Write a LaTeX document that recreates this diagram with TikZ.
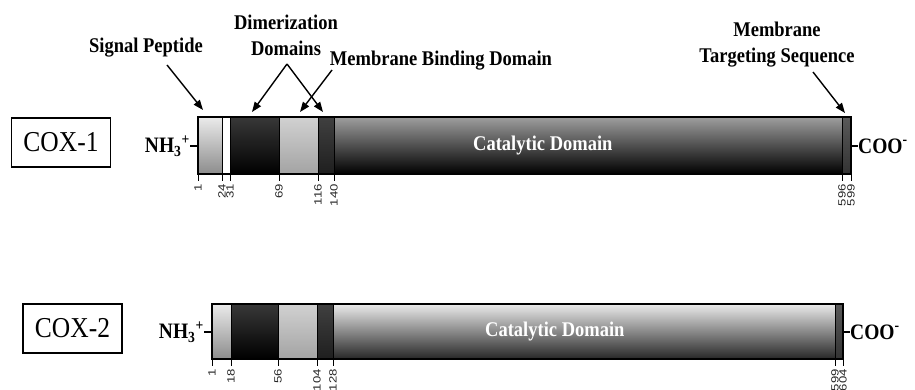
\documentclass[tikz,border=0pt]{standalone}
\usepackage{fontspec}
\setmainfont{Liberation Serif}
\newfontfamily\tickfont{Liberation Sans}
\usetikzlibrary{arrows.meta}
\newcommand\vst[1]{\scalebox{1}[1.13]{#1}}
\newcommand\lng[1]{\scalebox{1.25}[1]{#1}}
\tikzset{
  lbl/.style={font=\bfseries\fontsize{18.5}{26}\selectfont, align=center, inner sep=0pt},
  arr/.style={line width=1.4pt, -{Triangle[length=10pt,width=7.5pt]}},
  coxbox/.style={draw, line width=1.2pt, minimum width=99pt, minimum height=49pt, inner sep=0pt, font=\fontsize{25.5}{25.5}\selectfont},
  term/.style={font=\bfseries\fontsize{19.5}{19.5}\selectfont, inner sep=0pt},
  cat/.style={font=\bfseries\fontsize{18.5}{18.5}\selectfont, text=white, inner sep=0pt, anchor=west},
  ticklab/.style={rotate=90, anchor=east, inner sep=0pt, font=\tickfont\fontsize{10.5}{10.5}\selectfont, text=black!85},
  seg/.style={draw=black, line width=0.6pt},
  lightseg/.style={seg, top color=black!8, bottom color=black!45},
  darkseg/.style={seg, top color=black!78, bottom color=black},
  midseg/.style={seg, top color=black!18, bottom color=black!36},
  bandseg/.style={seg, top color=black!75, bottom color=black!88},
  endseg/.style={seg, top color=black!65, bottom color=black!80},
  whiteseg/.style={seg, fill=white},
  catone/.style={seg, top color=black!38, middle color=black!58, bottom color=black},
  cattwo/.style={seg, top color=black!8, middle color=black!30, bottom color=black!85},
  outline/.style={draw=black, line width=1.5pt},
}
\begin{document}
\begin{tikzpicture}[x=1pt,y=-1pt]
\useasboundingbox (0,0) rectangle (915,390);

% ---------------- COX-1 ----------------
\shade[lightseg] (198,117) rectangle (222,174);
\fill[whiteseg]  (222,117) rectangle (230,174);
\shade[darkseg]  (230,117) rectangle (279,174);
\shade[midseg]   (279,117) rectangle (318,174);
\shade[bandseg]  (318,117) rectangle (334,174);
\shade[catone]   (334,117) rectangle (842,174);
\shade[endseg]   (842,117) rectangle (851,174);
\draw[outline] (198,117) rectangle (851,174);

\foreach \x/\l in {198/1, 222/24, 230/31, 279/69, 318/116, 334/140, 842/596, 851/599}{
  \draw[line width=1pt] (\x,174) -- (\x,181);
  \node[ticklab] (a\l) at (\x,184) {\lng{\l}};
}

\node[coxbox] (cox1) at (61,142.5) {\vst{COX-1}};
\node[term, anchor=east] (nh1) at (190,146) {\vst{NH\textsubscript{3}\textsuperscript{+}}};
\draw[line width=1.2pt] (190,146) -- (198,146);
\node[term, anchor=west] (coo1) at (858,146) {\vst{COO\textsuperscript{-}}};
\draw[line width=1.2pt] (851,146) -- (858,146);
\node[cat] (cat1) at (473,146) {\vst{Catalytic Domain}};

% labels
\node[lbl] (sp) at (146,48) {\vst{Signal Peptide}};
\node[lbl] (dim) at (286,35) {\vst{Dimerization}\\\vst{Domains}};
\node[lbl] (mbd) at (441,61) {\vst{Membrane Binding Domain}};
\node[lbl] (mts) at (777,45) {\vst{Membrane}\\\vst{Targeting Sequence}};

\coordinate (spA) at (167,65);   \coordinate (spB) at (203,110);
\coordinate (dmA) at (287,64);   \coordinate (dmB) at (252,112); \coordinate (dmC) at (323,112);
\coordinate (mbA) at (332,70);   \coordinate (mbB) at (300,112);
\coordinate (mtA) at (813,72);   \coordinate (mtB) at (845,113);
\draw[arr] (spA) -- (spB);
\draw[arr] (dmA) -- (dmB);
\draw[arr] (dmA) -- (dmC);
\draw[arr] (mbA) -- (mbB);
\draw[arr] (mtA) -- (mtB);

% ---------------- COX-2 ----------------
\shade[lightseg] (212,304) rectangle (231,359);
\shade[darkseg]  (231,304) rectangle (278,359);
\shade[midseg]   (278,304) rectangle (317,359);
\shade[bandseg]  (317,304) rectangle (333,359);
\shade[cattwo]   (333,304) rectangle (835,359);
\shade[endseg]   (835,304) rectangle (843,359);
\draw[outline] (212,304) rectangle (843,359);

\foreach \x/\l in {212/1, 231/18, 278/56, 317/104, 333/128, 835/599, 843/604}{
  \draw[line width=1pt] (\x,359) -- (\x,366);
  \node[ticklab] (b\l) at (\x,369) {\lng{\l}};
}

\node[coxbox] (cox2) at (72.5,328.5) {\vst{COX-2}};
\node[term, anchor=east] (nh2) at (204,332) {\vst{NH\textsubscript{3}\textsuperscript{+}}};
\draw[line width=1.2pt] (204,332) -- (212,332);
\node[term, anchor=west] (coo2) at (850,332) {\vst{COO\textsuperscript{-}}};
\draw[line width=1.2pt] (843,332) -- (850,332);
\node[cat] (cat2) at (485,332) {\vst{Catalytic Domain}};
\end{tikzpicture}
\end{document}
